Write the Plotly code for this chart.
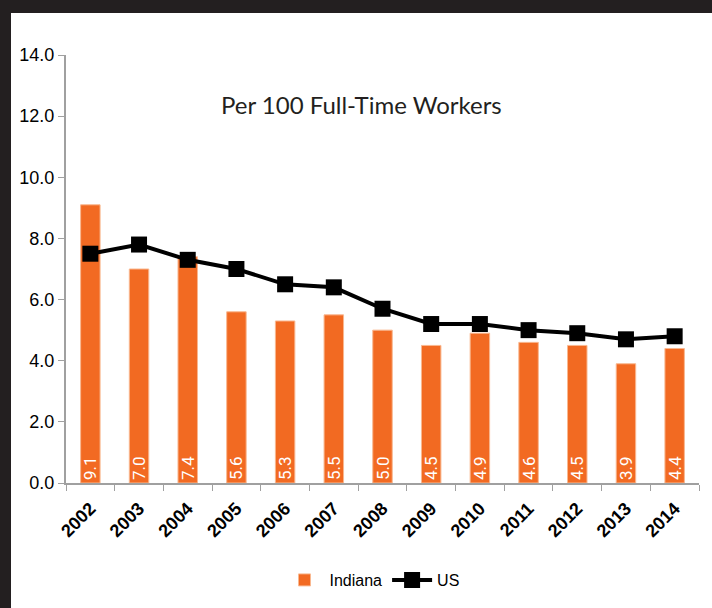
import plotly.graph_objects as go

years = ["2002", "2003", "2004", "2005", "2006", "2007", "2008",
         "2009", "2010", "2011", "2012", "2013", "2014"]
indiana = [9.1, 7.0, 7.4, 5.6, 5.3, 5.5, 5.0, 4.5, 4.9, 4.6, 4.5, 3.9, 4.4]
us = [7.5, 7.8, 7.3, 7.0, 6.5, 6.4, 5.7, 5.2, 5.2, 5.0, 4.9, 4.7, 4.8]
y_ticks = [0, 2, 4, 6, 8, 10, 12, 14]

W, H = 712, 608
L, R, T, B = 66, 13, 55, 125
pw, ph = W - L - R, H - T - B


def px_x(px):
    return (px - L) / pw


def px_y(py):
    return (H - B - py) / ph


fig = go.Figure()
fig.add_trace(go.Bar(
    x=years, y=indiana, name="Indiana", width=0.4,
    marker=dict(color="#f26a22", line=dict(color="#f9b890", width=1)),
    text=[f"{v:.1f}" for v in indiana], textposition="inside",
    insidetextanchor="start", textangle=-90, constraintext="none",
    textfont=dict(color="white", size=17, family="Roboto"),
))
fig.add_trace(go.Scatter(
    x=years, y=us, name="US", mode="lines+markers",
    line=dict(color="black", width=4),
    marker=dict(symbol="square", size=16, color="black"),
))

fig.add_annotation(text="Per 100 Full-Time Workers", xref="paper", yref="paper",
                   x=px_x(361), y=px_y(88), showarrow=False,
                   font=dict(size=24, color="#231f20", family="Lato"))

dark = "#231f20"
fig.add_shape(type="rect", xref="paper", yref="paper", layer="below",
              x0=px_x(-5), x1=px_x(W + 5), y0=px_y(13), y1=px_y(-5),
              fillcolor=dark, line=dict(width=0))
fig.add_shape(type="rect", xref="paper", yref="paper", layer="below",
              x0=px_x(-5), x1=px_x(11), y0=px_y(H + 5), y1=px_y(-5),
              fillcolor=dark, line=dict(width=0))

fig.update_layout(
    width=W, height=H,
    margin=dict(l=L, r=R, t=T, b=B, autoexpand=False),
    paper_bgcolor="white", plot_bgcolor="white",
    showlegend=True,
    legend=dict(orientation="h", x=px_x(372), y=px_y(580), xanchor="center",
                yanchor="middle", font=dict(size=16, family="Liberation Sans", color="black"),
                itemwidth=40),
    xaxis=dict(
        type="category", tickson="boundaries", ticks="outside", ticklen=6,
        tickcolor="#a0a0a0", showline=True, linecolor="#a0a0a0", linewidth=2,
        tickangle=-45, showgrid=False, ticklabelstandoff=6,
        tickfont=dict(size=18, family="Liberation Sans", color="black", weight="bold"),
        range=[-0.5, 12.5],
    ),
    yaxis=dict(
        range=[0, 14], tickvals=y_ticks, tickformat=".1f", ticks="outside",
        ticklen=6, tickcolor="#a0a0a0", showline=True, linecolor="#a0a0a0",
        linewidth=2, showgrid=False, zeroline=False,
        tickfont=dict(size=18, family="Liberation Sans", color="black"),
    ),
)

fig.write_html("out.html", config={"displayModeBar": False},
               post_script="document.body.style.margin='0';document.body.style.overflow='hidden';")
